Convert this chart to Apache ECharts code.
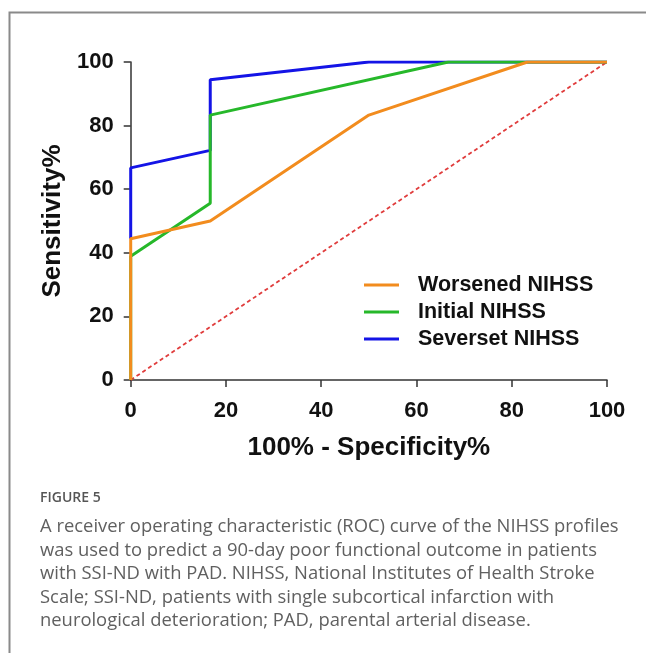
<!DOCTYPE html>
<html>
<head>
<meta charset="utf-8">
<script src="https://cdn.jsdelivr.net/npm/echarts@6/dist/echarts.min.js"></script>
<style>
  html, body { margin: 0; padding: 0; background: #fff; }
  #roc { width: 646px; height: 653px; }
</style>
</head>
<body>
<div id="roc"></div>
<script>
// Données ROC (100% - spécificité, sensibilité)
const worsenedX = [0, 0, 16.7, 50, 83.3, 100];
const worsenedY = [0, 44.4, 50, 83.3, 100, 100];
const initialX = [0, 0, 16.7, 16.7, 66.7, 100];
const initialY = [0, 38.9, 55.6, 83.3, 100, 100];
const seversetX = [0, 0, 16.7, 16.7, 50, 100];
const seversetY = [44.4, 66.7, 72.2, 94.4, 100, 100];
const refX = [0, 100];
const refY = [0, 100];
const seriesNames = ['Worsened NIHSS', 'Initial NIHSS', 'Severset NIHSS'];
const axisTicks = [0, 20, 40, 60, 80, 100];

const captionLines = [
    'A receiver operating characteristic (ROC) curve of the NIHSS profiles',
    'was used to predict a 90-day poor functional outcome in patients',
    'with SSI-ND with PAD. NIHSS, National Institutes of Health Stroke',
    'Scale; SSI-ND, patients with single subcortical infarction with',
    'neurological deterioration; PAD, parental arterial disease.'
];

function pairs(xs, ys) {
    return xs.map((x, i) => [x, ys[i]]);
}

function curve(name, xs, ys, color, z) {
    return {
        name: name,
        type: 'line',
        data: pairs(xs, ys),
        showSymbol: false,
        z: z,
        lineStyle: { color: color, width: 3 },
        itemStyle: { color: color },
        silent: true
    };
}

const bold = 'Liberation Sans, Arial, sans-serif';

const axisCommon = {
    type: 'value',
    min: axisTicks[0],
    max: axisTicks[axisTicks.length - 1],
    interval: 20,
    splitLine: { show: false },
    axisLine: { show: true, lineStyle: { color: '#333', width: 1.5 } },
    axisTick: { show: true, length: 7, inside: false, lineStyle: { color: '#333', width: 1.5 } },
    nameLocation: 'middle',
    nameTextStyle: { fontFamily: bold, fontWeight: 'bold', fontSize: 26, color: '#111' }
};

const chart = echarts.init(document.getElementById('roc'));

chart.setOption({
    animation: false,
    backgroundColor: '#fff',
    grid: { left: 130.7, right: 39, top: 62, bottom: 273, containLabel: false },
    xAxis: Object.assign({}, axisCommon, {
        name: '100% - Specificity%',
        nameGap: 55,
        axisLabel: { margin: 20, fontFamily: bold, fontWeight: 'bold', fontSize: 22, color: '#111' }
    }),
    yAxis: Object.assign({}, axisCommon, {
        name: 'Sensitivity%',
        nameGap: 65,
        axisLabel: { margin: 17, fontFamily: bold, fontWeight: 'bold', fontSize: 22, color: '#111' }
    }),
    legend: {
        data: seriesNames,
        orient: 'vertical',
        left: 359,
        top: 269,
        icon: 'rect',
        itemWidth: 35,
        itemHeight: 3,
        itemGap: 5,
        selectedMode: false,
        textStyle: {
            fontFamily: bold, fontWeight: 'bold', fontSize: 21.5, color: '#111',
            lineHeight: 22, padding: [0, 0, 0, 14]
        }
    },
    series: [
        {
            name: 'Reference',
            type: 'line',
            data: pairs(refX, refY),
            showSymbol: false,
            z: 1,
            lineStyle: { color: '#e03c3c', width: 1.8, type: [4, 3] },
            silent: true
        },
        curve(seriesNames[2], seversetX, seversetY, '#1414e6', 2),
        curve(seriesNames[1], initialX, initialY, '#26b82a', 3),
        curve(seriesNames[0], worsenedX, worsenedY, '#f28c1e', 4)
    ],
    graphic: [
        {
            type: 'rect',
            left: 7, top: 10,
            shape: { width: 700, height: 700 },
            style: { fill: 'none', stroke: '#8a8a8a', lineWidth: 2 },
            silent: true
        },
        {
            type: 'text',
            left: 40, top: 491,
            style: { text: 'FIGURE 5', fill: '#555', font: '600 14px "Open Sans", sans-serif' }
        },
        {
            type: 'text',
            left: 40, top: 515,
            style: {
                text: captionLines.join('\n'),
                fill: '#606060',
                font: '400 18.4px "Open Sans", sans-serif',
                lineHeight: 23.6
            }
        }
    ]
});

window.addEventListener('resize', function () {
    chart.resize();
});
</script>
</body>
</html>
